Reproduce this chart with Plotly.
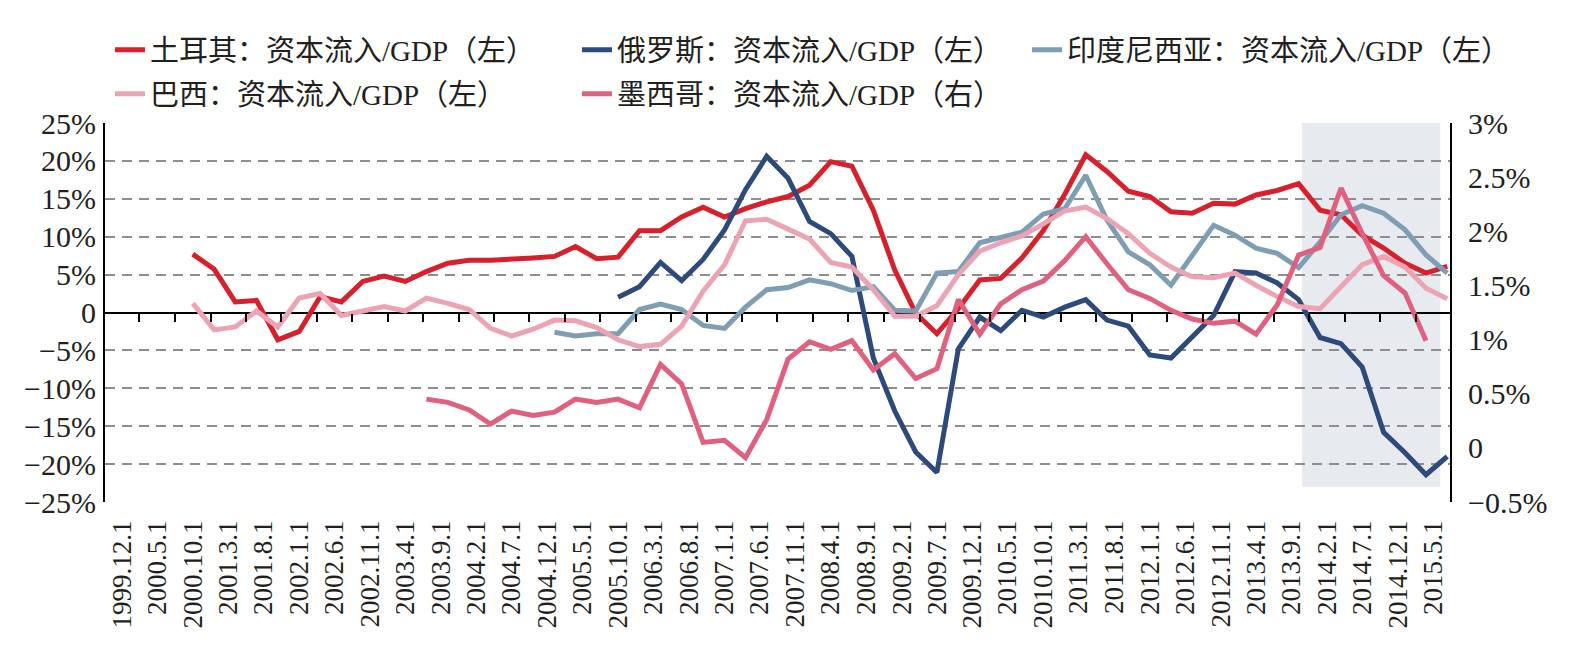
import pandas as pd
import plotly.graph_objects as go

# ---------------- data ----------------
quarters = pd.date_range("2000-10-01", "2015-07-01", freq="QS").strftime("%Y-%m-%d").tolist()  # 60 quarters

turkey = [7.7, 5.7, 1.4, 1.6, -3.6, -2.5, 2.1, 1.4, 4.1, 4.8,
          4.1, 5.4, 6.5, 6.9, 6.9, 7.0, 7.2, 7.4, 8.7, 7.1,
          7.3, 10.8, 10.8, 12.6, 13.9, 12.6, 13.7, 14.6, 15.3, 16.8,
          19.9, 19.3, 13.5, 5.6, -0.1, -2.8, 0.5, 4.3, 4.5, 7.2,
          10.8, 15.6, 20.8, 18.6, 16.0, 15.3, 13.3, 13.1, 14.4, 14.3,
          15.5, 16.1, 17.0, 13.5, 12.9, 10.2, 8.5, 6.5, 5.2, 6.1]

russia = [None] * 20 + [
          2.0, 3.4, 6.6, 4.2, 7.0, 10.9, 16.2, 20.6, 17.7, 12.0,
          10.4, 7.4, -6.0, -13.0, -18.4, -21.1, -4.8, -0.6, -2.4, 0.3,
          -0.6, 0.7, 1.7, -1.0, -1.8, -5.6, -6.0, -3.3, -0.4, 5.4,
          5.2, 3.9, 1.7, -3.3, -4.1, -7.2, -15.8, -18.5, -21.4, -19.0]

indonesia = [None] * 17 + [
          -2.6, -3.1, -2.8, -2.8, 0.4, 1.1, 0.4, -1.7, -2.1, 0.7,
          3.0, 3.3, 4.3, 3.8, 2.9, 3.4, 0.3, 0.2, 5.2, 5.4,
          9.2, 9.9, 10.6, 13.0, 13.7, 18.1, 12.2, 8.0, 6.3, 3.6,
          7.4, 11.5, 10.2, 8.5, 7.8, 5.9, 9.3, 12.9, 14.1, 13.1,
          10.9, 7.6, 5.2]

brazil = [1.2, -2.3, -1.9, 0.2, -1.9, 1.9, 2.5, -0.4, 0.2, 0.8,
          0.2, 1.9, 1.2, 0.4, -2.1, -3.1, -2.2, -1.0, -1.1, -2.0,
          -3.6, -4.5, -4.2, -1.8, 2.8, 6.3, 12.1, 12.3, 11.0, 9.7,
          6.6, 6.0, 3.0, -0.5, -0.5, 0.9, 5.0, 8.1, 9.2, 10.1,
          11.7, 13.4, 13.9, 12.4, 10.4, 7.8, 6.0, 4.7, 4.6, 5.2,
          3.6, 2.1, 0.8, 0.5, 3.4, 6.3, 7.4, 6.0, 3.2, 1.8]

# Mexico on the right axis (%)
mexico = [None] * 11 + [
          0.45, 0.42, 0.35, 0.22, 0.34, 0.30, 0.33, 0.45, 0.42, 0.45,
          0.37, 0.77, 0.59, 0.05, 0.07, -0.09, 0.26, 0.82, 0.98, 0.91,
          0.99, 0.72, 0.87, 0.64, 0.73, 1.37, 1.05, 1.33, 1.46, 1.54,
          1.73, 1.95, 1.70, 1.46, 1.38, 1.27, 1.19, 1.15, 1.17, 1.05,
          1.32, 1.78, 1.85, 2.40, 1.98, 1.59, 1.43, 0.99, None]

tick_labels = ["1999.12.1", "2000.5.1", "2000.10.1", "2001.3.1", "2001.8.1", "2002.1.1",
               "2002.6.1", "2002.11.1", "2003.4.1", "2003.9.1", "2004.2.1", "2004.7.1",
               "2004.12.1", "2005.5.1", "2005.10.1", "2006.3.1", "2006.8.1", "2007.1.1",
               "2007.6.1", "2007.11.1", "2008.4.1", "2008.9.1", "2009.2.1", "2009.7.1",
               "2009.12.1", "2010.5.1", "2010.10.1", "2011.3.1", "2011.8.1", "2012.1.1",
               "2012.6.1", "2012.11.1", "2013.4.1", "2013.9.1", "2014.2.1", "2014.7.1",
               "2014.12.1", "2015.5.1"]

left_ticks = [-25, -20, -15, -10, -5, 0, 5, 10, 15, 20, 25]
left_text = ["−25%", "−20%", "−15%", "−10%", "−5%", "0", "5%", "10%", "15%", "20%", "25%"]
right_ticks = [-0.5, 0, 0.5, 1, 1.5, 2, 2.5, 3]
right_text = ["−0.5%", "0", "0.5%", "1%", "1.5%", "2%", "2.5%", "3%"]

names = ["土耳其：资本流入/GDP（左）", "俄罗斯：资本流入/GDP（左）", "印度尼西亚：资本流入/GDP（左）",
         "巴西：资本流入/GDP（左）", "墨西哥：资本流入/GDP（右）"]
colors = ["#d8202c", "#2d4a7a", "#7f9eb3", "#eca4b4", "#e0617f"]

# ---------------- derived axis positions ----------------
tick_dates = [f"{t.split('.')[0]}-{int(t.split('.')[1]):02d}-01" for t in tick_labels]
mid_ticks = [(pd.Timestamp(d) + pd.Timedelta(days=76)).strftime("%Y-%m-%d") for d in tick_dates]
x_range = ["1999-09-20", "2015-07-13"]

fig = go.Figure()
series = [turkey, russia, indonesia, brazil]
legends = ["legend", "legend", "legend3", "legend2"]
for s, n, c, lg in zip(series, names[:4], colors[:4], legends):
    fig.add_trace(go.Scatter(x=quarters, y=s, name=n, mode="lines",
                             line=dict(color=c, width=5), legend=lg))
fig.add_trace(go.Scatter(x=quarters, y=mexico, name=names[4], mode="lines",
                         line=dict(color=colors[4], width=5), legend="legend2",
                         xaxis="x2", yaxis="y2"))

# shaded period
fig.add_shape(type="rect", xref="x", yref="y", x0="2013-10-15", x1="2015-06-01",
              y0=-23, y1=25, fillcolor="#e7eaee", line=dict(width=0), layer="below")

txt = "#231f20"
leg_common = dict(orientation="h", xanchor="left", yanchor="middle",
                  entrywidth=422, entrywidthmode="pixels", bgcolor="rgba(0,0,0,0)",
                  font=dict(size=29), traceorder="normal")
fig.update_layout(
    width=1586, height=662,
    margin=dict(l=105, r=136, t=123, b=160),
    plot_bgcolor="white", paper_bgcolor="white",
    font=dict(family="Liberation Serif, Noto Sans CJK SC", size=28, color=txt),
    xaxis=dict(type="date", range=x_range, tickvals=tick_dates, ticktext=tick_labels,
               tickangle=-90, showgrid=False, showline=False, zeroline=False, ticks="",
               tickfont=dict(size=27), ticklabelstandoff=12),
    xaxis2=dict(type="date", range=x_range, overlaying="x", anchor="free", position=0.5,
                side="bottom", tickvals=mid_ticks, ticks="outside", ticklen=8, tickwidth=2,
                tickcolor="black", showticklabels=False, showgrid=False, showline=False,
                zeroline=False),
    yaxis=dict(range=[-25, 25], tickvals=left_ticks, ticktext=left_text,
               showgrid=True, gridcolor="#8e8e8e", gridwidth=1.5, griddash="10px,7px",
               zeroline=True, zerolinecolor="black", zerolinewidth=2,
               showline=True, linecolor="black", linewidth=2, ticks="",
               ticklabelstandoff=1, tickfont=dict(size=30)),
    yaxis2=dict(range=[-0.5, 3], overlaying="y", side="right", anchor="x",
                tickvals=right_ticks, ticktext=right_text, showgrid=False, zeroline=False,
                showline=True, linecolor="black", linewidth=2, ticks="",
                ticklabelstandoff=10, tickfont=dict(size=30)),
    legend=dict(x=0.0037, y=1.193, **leg_common),
    legend3=dict(x=0.6855, y=1.193, **leg_common),
    legend2=dict(x=0.0037, y=1.077, **leg_common),
)

fig.write_html("out.html")
